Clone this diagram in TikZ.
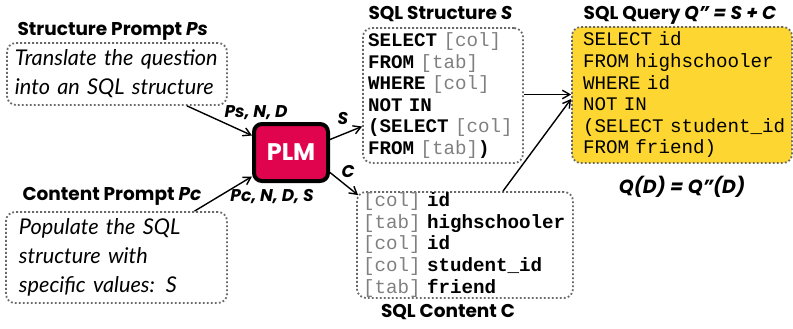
\documentclass[tikz,border=0pt]{standalone}
\usepackage{fontspec}
\setmainfont{Lato}
\setmonofont{Liberation Mono}
\newfontfamily\headfont{Poppins}
\usetikzlibrary{arrows.meta, positioning}
\definecolor{plmred}{RGB}{224,4,78}
\definecolor{queryyellow}{RGB}{253,214,50}
\definecolor{dotgray}{RGB}{105,105,105}
\newcommand{\slot}[1]{\textcolor{black!50}{\mdseries #1}}

\begin{document}
\begin{tikzpicture}[x=1pt, y=-1pt,
    dotbox/.style={draw=dotgray, line width=1.8pt, dash pattern=on 1.8pt off 2.2pt, rounded corners=9pt, inner ysep=0pt, align=left},
    prompt/.style={dotbox, font=\fontsize{21.7}{29}\selectfont\itshape},
    code/.style={dotbox, font=\fontsize{19.2}{21.6}\selectfont\ttfamily},
    title/.style={font=\headfont\fontsize{18.5}{20}\selectfont\bfseries},
    edgelabel/.style={font=\headfont\fontsize{17}{18}\selectfont\bfseries\itshape},
    plm/.style={draw=black, fill=plmred, line width=4pt, rounded corners=8pt, text=white, font=\headfont\fontsize{24}{28}\selectfont\bfseries},
    flow/.style={draw=black, line width=1.4pt, -{Straight Barb[length=2.6mm, width=3mm]}}
]
    \useasboundingbox (0,0) rectangle (793,329);

    % prompts
    \node[prompt, minimum width=220, minimum height=62, text width=204, inner xsep=8pt] (ps) at (117,74) {Translate the question\\into an SQL structure};
    \node[title, anchor=base west] (pstitle) at (14,36) {Structure Prompt \textit{Ps}};
    \node[prompt, minimum width=221, minimum height=91, text width=195, inner xsep=13pt] (pc) at (116.5,257.5) {Populate the SQL\\structure with\\specific values: \textit{S}};
    \node[title, anchor=base west] (pctitle) at (19,200) {Content Prompt \textit{Pc}};

    % model
    \node[plm, minimum width=74, minimum height=57] (model) at (291,152.5) {PLM};

    % structure and content
    \node[code, minimum width=160, minimum height=135, text width=150, inner xsep=5pt] (struct) at (443,95.5)
        {\textbf{SELECT} \slot{[col]}\\\textbf{FROM} \slot{[tab]}\\\textbf{WHERE} \slot{[col]}\\\textbf{NOT IN}\\\textbf{(SELECT} \slot{[col]}\\\textbf{FROM} \slot{[tab]}\textbf{)}};
    \node[title, anchor=base west] (structtitle) at (365,20) {SQL Structure \textit{S}};
    \node[code, minimum width=216, minimum height=106, text width=204, inner xsep=6pt] (content) at (465,245)
        {\slot{[col]} \textbf{id}\\\slot{[tab]} \textbf{highschooler}\\\slot{[col]} \textbf{id}\\\slot{[col]} \textbf{student\_id}\\\slot{[tab]} \textbf{friend}};
    \node[title, below=2pt of content, xshift=-17pt] (contenttitle) {SQL Content C};

    % query
    \node[code, fill=queryyellow, minimum width=220, minimum height=136, text width=198, inner xsep=11pt] (query) at (682,95)
        {SELECT~id\\FROM~highschooler\\WHERE~id\\NOT~IN\\(SELECT~student\_id\\FROM~friend)};
    \node[title, anchor=base] (querytitle) at (680,20) {SQL Query \textit{Q” = S + C}};
    \node[title, font=\headfont\fontsize{19}{20}\selectfont\bfseries\itshape, below=9pt of query] (exec) {Q(D) = Q”(D)};

    % connectors
    \draw[flow] ([xshift=70]ps.south) -- ([yshift=17]model.west);
    \draw[flow] ([xshift=78]pc.north) -- ([yshift=-24]model.west);
    \draw[flow] ([yshift=13]model.east) -- ([yshift=-31]struct.west);
    \draw[flow] ([yshift=-20]model.east) -- ([xshift=2,yshift=-4]content.north west);
    \draw[flow] ([yshift=1]struct.east) -- ([yshift=1]struct.east -| query.west);
    \draw[flow] ([xshift=38]content.north) -- ([yshift=-4]query.west);

    \node[edgelabel] (lps) at (256,113) {Ps, N, D};
    \node[edgelabel] (lpc) at (272,197) {Pc, N, D, S};
    \node[edgelabel] (ls) at (343,119) {S};
    \node[edgelabel] (lc) at (348,172) {C};
\end{tikzpicture}
\end{document}
